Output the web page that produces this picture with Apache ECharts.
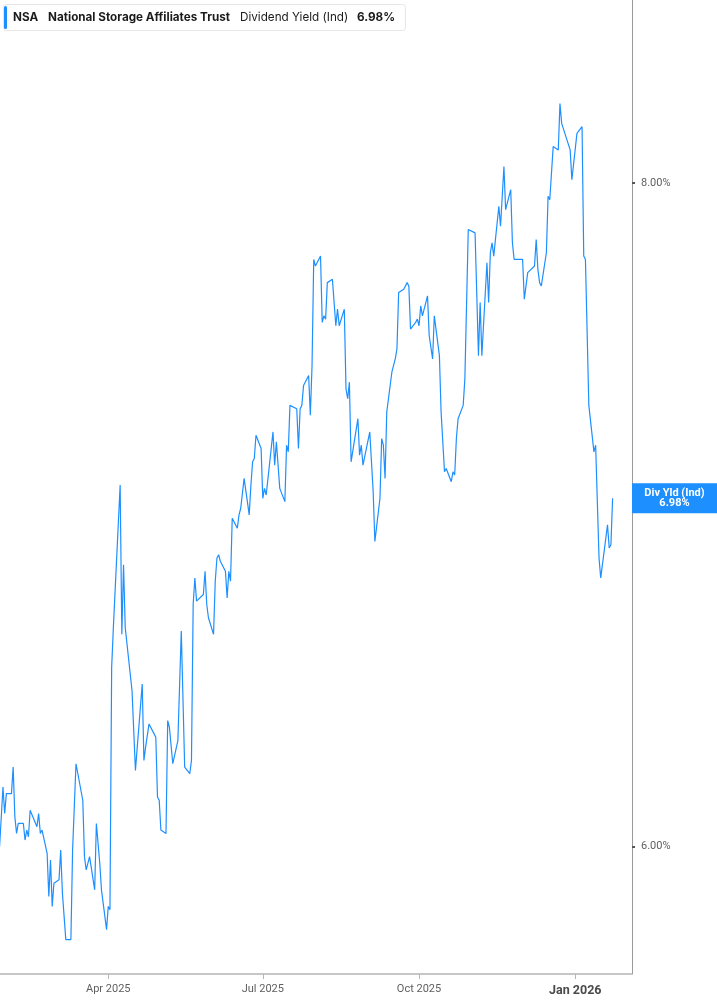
<!DOCTYPE html>
<html>
<head>
<meta charset="utf-8">
<script src="https://cdn.jsdelivr.net/npm/echarts@6/dist/echarts.min.js"></script>
<style>
html,body{margin:0;padding:0;background:#fff;}
#chart{width:717px;height:1005px;}
</style>
</head>
<body>
<div id="chart"></div>
<script>
// ---- data ----
const dates = [
'2025-01-27','2025-01-29','2025-01-30','2025-01-31',
'2025-02-03','2025-02-04','2025-02-05','2025-02-06','2025-02-07','2025-02-10','2025-02-11','2025-02-12','2025-02-13','2025-02-14','2025-02-18','2025-02-19','2025-02-20','2025-02-21','2025-02-24','2025-02-25','2025-02-26','2025-02-27','2025-02-28',
'2025-03-03','2025-03-04','2025-03-05','2025-03-06','2025-03-07','2025-03-10','2025-03-11','2025-03-13','2025-03-14','2025-03-17','2025-03-18','2025-03-19','2025-03-20','2025-03-21','2025-03-24','2025-03-25','2025-03-27','2025-03-28','2025-03-31',
'2025-04-01','2025-04-02','2025-04-03','2025-04-04','2025-04-08','2025-04-09','2025-04-10','2025-04-11','2025-04-15','2025-04-16','2025-04-17','2025-04-21','2025-04-22','2025-04-23','2025-04-24','2025-04-25','2025-04-28','2025-04-29','2025-04-30',
'2025-05-01','2025-05-02','2025-05-05','2025-05-06','2025-05-07','2025-05-09','2025-05-12','2025-05-14','2025-05-16','2025-05-19','2025-05-20','2025-05-21','2025-05-22','2025-05-23','2025-05-27','2025-05-28','2025-05-29','2025-05-30',
'2025-06-02','2025-06-03','2025-06-04','2025-06-05','2025-06-06','2025-06-09','2025-06-10','2025-06-11','2025-06-12','2025-06-13','2025-06-16','2025-06-17','2025-06-18','2025-06-20','2025-06-23','2025-06-24','2025-06-25','2025-06-26','2025-06-27','2025-06-30',
'2025-07-01','2025-07-02','2025-07-03','2025-07-07','2025-07-08','2025-07-09','2025-07-11','2025-07-14','2025-07-15','2025-07-16','2025-07-17','2025-07-21','2025-07-22','2025-07-23','2025-07-24','2025-07-25','2025-07-28','2025-07-29','2025-07-30','2025-07-31',
'2025-08-01','2025-08-04','2025-08-05','2025-08-06','2025-08-07','2025-08-08','2025-08-11','2025-08-13','2025-08-14','2025-08-15','2025-08-18','2025-08-19','2025-08-20','2025-08-21','2025-08-22','2025-08-26','2025-08-27','2025-08-28','2025-08-29',
'2025-09-02','2025-09-04','2025-09-05','2025-09-08','2025-09-09','2025-09-10','2025-09-11','2025-09-12','2025-09-15','2025-09-17','2025-09-18','2025-09-19','2025-09-22','2025-09-24','2025-09-25','2025-09-26','2025-09-29','2025-09-30',
'2025-10-01','2025-10-02','2025-10-03','2025-10-06','2025-10-07','2025-10-09','2025-10-10','2025-10-13','2025-10-14','2025-10-16','2025-10-17','2025-10-20','2025-10-21','2025-10-22','2025-10-23','2025-10-24','2025-10-27','2025-10-28','2025-10-30',
'2025-11-03','2025-11-05','2025-11-06','2025-11-07','2025-11-10','2025-11-11','2025-11-12','2025-11-13','2025-11-14','2025-11-17','2025-11-18','2025-11-20','2025-11-21','2025-11-24','2025-11-25','2025-11-26','2025-11-28',
'2025-12-01','2025-12-02','2025-12-03','2025-12-04','2025-12-05','2025-12-08','2025-12-09','2025-12-10','2025-12-11','2025-12-12','2025-12-15','2025-12-16','2025-12-17','2025-12-19','2025-12-22','2025-12-23','2025-12-24','2025-12-29','2025-12-30',
'2026-01-02','2026-01-05','2026-01-06','2026-01-07','2026-01-09','2026-01-12','2026-01-13','2026-01-15','2026-01-16','2026-01-20','2026-01-21','2026-01-22','2026-01-23'
];
const yieldValues = [
6.00,6.18,6.10,6.16,
6.16,6.24,6.09,6.04,6.07,6.07,6.02,6.05,6.03,6.11,6.06,6.10,6.04,6.05,5.98,5.85,5.96,5.82,5.89,
5.90,5.99,5.86,5.86,5.72,5.72,5.99,6.25,6.25,6.14,5.97,5.93,5.93,5.97,5.87,6.07,5.95,5.87,5.75,
5.82,5.81,6.54,6.66,7.09,6.64,6.85,6.66,6.47,6.47,6.23,6.49,6.26,6.30,6.30,6.37,6.34,6.33,6.15,
6.14,6.05,6.04,6.38,6.36,6.25,6.32,6.65,6.24,6.22,6.26,6.73,6.81,6.74,6.76,6.83,6.73,6.69,
6.64,6.80,6.87,6.88,6.86,6.83,6.75,6.83,6.80,6.99,6.96,7.00,7.02,7.11,7.00,7.09,7.16,7.17,7.24,7.20,
7.05,7.08,7.06,7.25,7.15,7.22,7.08,7.04,7.21,7.19,7.33,7.32,7.20,7.32,7.33,7.39,7.42,7.30,7.45,7.77,
7.75,7.78,7.58,7.60,7.59,7.70,7.71,7.57,7.62,7.57,7.62,7.38,7.35,7.40,7.16,7.29,7.18,7.21,7.15,
7.25,7.07,6.92,7.05,7.23,7.21,7.11,7.31,7.43,7.47,7.50,7.67,7.68,7.70,7.69,7.56,7.58,7.59,
7.57,7.63,7.60,7.66,7.54,7.47,7.60,7.48,7.31,7.13,7.14,7.10,7.13,7.12,7.23,7.29,7.33,7.41,7.86,
7.85,7.48,7.64,7.48,7.76,7.64,7.79,7.82,7.78,7.93,7.87,8.05,7.92,7.98,7.82,7.77,7.77,
7.77,7.65,7.65,7.73,7.73,7.75,7.83,7.74,7.70,7.69,7.79,7.96,7.95,8.11,8.10,8.24,8.18,8.10,8.01,
8.15,8.17,7.78,7.77,7.33,7.19,7.21,6.87,6.81,6.97,6.90,6.91,7.05
];
const xTickDates = ['2025-04-01','2025-07-01','2025-10-01','2026-01-01'];
const xTickLabels = ['Apr 2025','Jul 2025','Oct 2025','Jan 2026'];
const yTicks = [6, 8];
const ticker = 'NSA';
const companyName = 'National Storage Affiliates Trust';
const metricName = 'Dividend Yield (Ind)';
const currentLabel = '6.98%';
const boxLabel = 'Div Yld (Ind)';

// ---- helpers ----
function ts(s){ const p = s.split('-').map(Number); return Date.UTC(p[0], p[1]-1, p[2]); }
const xTickTs = xTickDates.map(ts);
const seriesData = dates.map((d,i)=>[ts(d), yieldValues[i]]);

const BLUE = '#1e8fff';
const chart = echarts.init(document.getElementById('chart'), null, {renderer:'canvas'});

const option = {
  animation: false,
  backgroundColor: '#ffffff',
  grid: {left: 0, right: 85, top: 0, bottom: 31, containLabel: false},
  xAxis: {
    type: 'value',
    min: Date.UTC(2025,0,27,6),
    max: Date.UTC(2026,1,3,10),
    scale: true,
    splitLine: {show:false},
    axisLine: {show:true, lineStyle:{color:'#b5b5b5', width:1.5}},
    axisTick: {show:true, customValues: xTickTs, length:5, lineStyle:{color:'#b5b5b5', width:1}},
    axisLabel: {
      customValues: xTickTs,
      margin: 10,
      fontFamily: 'Roboto',
      fontSize: 11,
      color: '#5f5f5f',
      formatter: function(v){
        let idx = -1, best = Infinity;
        xTickTs.forEach((t,i)=>{ const d = Math.abs(t-v); if(d<best){best=d; idx=i;} });
        const s = xTickLabels[idx];
        return idx === xTickLabels.length-1 ? '{b|'+s+'}' : s;
      },
      rich: {b: {fontFamily:'Roboto', fontSize:12.5, fontWeight:'bold', color:'#4a4a4a'}}
    }
  },
  yAxis: {
    type: 'value',
    position: 'right',
    min: 5.6163,
    max: 8.5518,
    splitLine: {show:false},
    axisLine: {show:true, lineStyle:{color:'#9a9a9a', width:1}},
    axisTick: {show:true, customValues: yTicks, length:3, lineStyle:{color:'#555', width:2}},
    axisLabel: {
      customValues: yTicks,
      margin: 9,
      fontFamily: 'Roboto',
      fontSize: 11,
      color: '#5f5f5f',
      formatter: v => v.toFixed(2) + '%'
    }
  },
  series: [{
    type: 'line',
    data: seriesData,
    showSymbol: false,
    symbol: 'none',
    lineStyle: {color: BLUE, width: 1.2},
    clip: true
  }]
};
chart.setOption(option);

const lastVal = yieldValues[yieldValues.length-1];
const yPix = chart.convertToPixel({yAxisIndex:0}, lastVal);
const gridRight = chart.convertToPixel({xAxisIndex:0}, option.xAxis.max);

chart.setOption({
  graphic: [
    {type:'rect', shape:{x:3.5, y:4.5, width:402, height:26, r:3}, style:{fill:'#fff', stroke:'#e6e6e6', lineWidth:1}, z:100},
    {type:'rect', shape:{x:4, y:6, width:3, height:23, r:1.5}, style:{fill:BLUE}, z:101},
    {type:'text', x:13, y:17.5, style:{text:ticker, fontFamily:'Inter', fontSize:11.7, fontWeight:'bold', fill:'#1b1b1b', textVerticalAlign:'middle'}, z:101},
    {type:'text', x:48, y:17.5, style:{text:companyName, fontFamily:'Inter', fontSize:11.7, fontWeight:'bold', fill:'#1b1b1b', textVerticalAlign:'middle'}, z:101},
    {type:'text', x:240, y:17.5, style:{text:metricName, fontFamily:'Inter', fontSize:11.7, fontWeight:'normal', fill:'#1b1b1b', textVerticalAlign:'middle'}, z:101},
    {type:'text', x:357, y:17.5, style:{text:currentLabel, fontFamily:'Inter', fontSize:11.7, fontWeight:'bold', fill:'#1b1b1b', textVerticalAlign:'middle'}, z:101},
    {type:'rect', shape:{x:gridRight, y:yPix-15, width:717-gridRight, height:30}, style:{fill:BLUE}, z:100},
    {type:'text', x:gridRight+(717-gridRight)/2, y:yPix-5.5, style:{text:boxLabel, fontFamily:'Roboto', fontSize:11, fontWeight:'bold', fill:'#fff', textAlign:'center', textVerticalAlign:'middle'}, z:101},
    {type:'text', x:gridRight+(717-gridRight)/2, y:yPix+5, style:{text:currentLabel, fontFamily:'Roboto', fontSize:11, fontWeight:'bold', fill:'#fff', textAlign:'center', textVerticalAlign:'middle'}, z:101}
  ]
});
</script>
</body>
</html>
